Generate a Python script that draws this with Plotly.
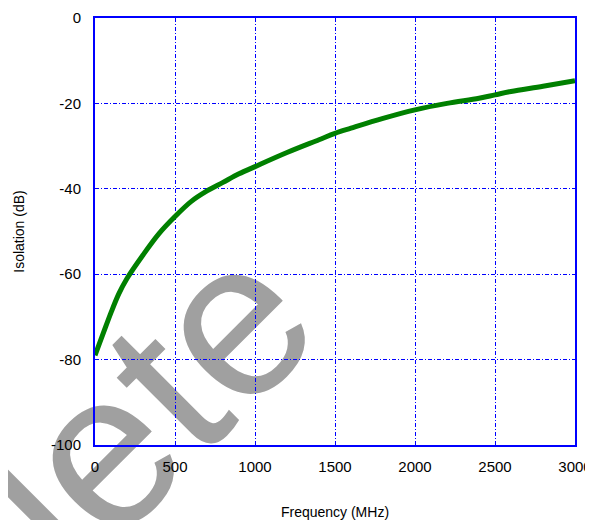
import plotly.graph_objects as go

freq_mhz = [0, 50, 100, 150, 200, 300, 400, 500, 600, 700, 800, 900, 1000,
            1200, 1400, 1500, 1600, 1800, 2000, 2200, 2400, 2500, 2600, 2800, 3000]
isolation_db = [-79.0, -74.0, -69.0, -64.5, -61.0, -55.5, -50.5, -46.5, -43.0,
                -40.5, -38.5, -36.5, -34.8, -31.5, -28.5, -27.0, -25.8, -23.5,
                -21.5, -20.0, -18.8, -18.0, -17.2, -16.0, -14.7]
x_ticks = [0, 500, 1000, 1500, 2000, 2500, 3000]
y_ticks = [0, -20, -40, -60, -80, -100]
watermark = "Obsolete"

fig = go.Figure()
fig.add_trace(go.Scatter(x=freq_mhz, y=isolation_db, mode="lines",
                         line=dict(color="#008000", width=5, shape="spline"),
                         showlegend=False))

axis_common = dict(showline=True, linecolor="#0000ff", linewidth=2, mirror=True,
                   showgrid=True, gridcolor="#0000ff", gridwidth=1.3,
                   griddash="4px,2px,1px,2px", zeroline=False, ticks="",
                   automargin=False,
                   tickfont=dict(family="Liberation Sans, Arial", size=15, color="black"))

fig.update_xaxes(range=[0, 3000], tickvals=x_ticks, ticktext=[str(v) for v in x_ticks],
                 ticklabelstandoff=7,
                 title=dict(text="Frequency (MHz)", standoff=38,
                            font=dict(family="Liberation Sans, Arial", size=14, color="black")),
                 **axis_common)
fig.update_yaxes(range=[-100, 0], tickvals=y_ticks, ticktext=[str(v) for v in y_ticks],
                 ticklabelstandoff=9,
                 title=dict(text="Isolation (dB)", standoff=23,
                            font=dict(family="Liberation Sans, Arial", size=14, color="black")),
                 **axis_common)

# watermark drawn beneath grid, curve and tick labels
wx, wy = -0.313, -0.309
fig.add_shape(type="rect", xref="paper", yref="paper", layer="below",
              x0=wx - 0.005, x1=wx + 0.005, y0=wy - 0.005, y1=wy + 0.005,
              line=dict(width=0), fillcolor="rgba(0,0,0,0)",
              label=dict(text=watermark, textangle=-45, textposition="middle center",
                         font=dict(family="Liberation Sans, Arial", size=222, color="#a0a0a0")))

# page body has an 8px margin, so the figure is 8px smaller and shifted
fig.update_layout(width=585, height=512, margin=dict(l=87, r=18, t=10, b=75),
                  plot_bgcolor="white", paper_bgcolor="white")

fig.write_html("out.html")
